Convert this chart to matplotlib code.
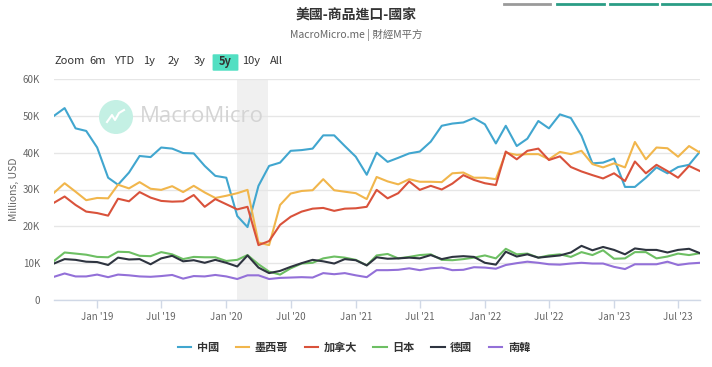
import numpy as np
import pandas as pd
import matplotlib
matplotlib.use("Agg")
import matplotlib.pyplot as plt
import matplotlib.dates as mdates
import matplotlib.ticker as ticker
from matplotlib.patches import FancyBboxPatch, Ellipse

plt.rcParams['font.family'] = ['Noto Sans CJK TC', 'DejaVu Sans']

# monthly, Sep 2018 - Sep 2023, millions USD
dates = pd.date_range('2018-09-01', periods=61, freq='MS')

china = [50.0, 52.1, 46.6, 45.9, 41.4, 33.2, 31.3, 34.6, 39.1, 38.8, 41.4, 41.1, 39.9, 39.8, 36.4, 33.7,
         33.2, 22.8, 19.8, 31.0, 36.4, 37.3, 40.5, 40.7, 41.1, 44.7, 44.7, 41.8,
         38.9, 34.0, 40.0, 37.5, 38.6, 39.8, 40.3, 43.0, 47.3, 47.9, 48.2, 49.4,
         47.7, 42.5, 47.3, 41.8, 43.8, 48.6, 46.6, 50.4, 49.4, 44.6, 37.1, 37.3,
         38.4, 30.7, 30.7, 33.2, 36.0, 34.4, 36.1, 36.7, 40.3]
mexico = [29.1, 31.7, 29.4, 27.1, 27.7, 27.6, 31.3, 30.3, 32.0, 30.2, 29.9, 30.9, 29.3, 31.0, 29.2, 27.7,
          28.3, 29.0, 29.9, 15.6, 14.9, 25.8, 28.9, 29.6, 29.8, 32.8, 29.8, 29.4,
          29.0, 27.4, 33.4, 32.2, 31.4, 32.8, 32.1, 32.1, 32.0, 34.4, 34.6, 33.2,
          33.2, 32.8, 40.0, 39.4, 39.6, 39.6, 38.2, 40.2, 39.6, 40.5, 36.9, 36.0,
          37.1, 36.0, 42.9, 38.2, 41.4, 41.2, 38.9, 41.8, 40.0]
canada = [26.4, 28.1, 25.8, 24.0, 23.6, 22.9, 27.5, 26.8, 29.3, 27.8, 26.9, 26.7, 26.8, 28.5, 25.3, 27.4,
          26.0, 24.6, 25.3, 14.9, 16.0, 20.4, 22.6, 24.0, 24.8, 25.0, 24.2, 24.8,
          24.9, 25.3, 29.9, 27.6, 29.0, 32.2, 29.9, 31.0, 30.0, 31.6, 33.9, 32.6,
          31.7, 31.2, 40.3, 38.2, 40.5, 41.1, 38.0, 39.0, 36.1, 34.9, 33.9, 33.0,
          34.4, 32.3, 37.6, 34.4, 36.7, 35.0, 33.2, 36.4, 35.0]
japan = [10.6, 12.9, 12.6, 12.3, 11.7, 11.6, 13.1, 13.0, 12.0, 11.9, 13.0, 12.4, 11.1, 11.7, 11.6, 11.6,
         10.6, 10.9, 12.2, 9.7, 7.7, 6.9, 8.6, 9.9, 10.1, 11.3, 11.8, 11.5,
         10.9, 9.4, 12.1, 12.5, 11.3, 11.7, 12.2, 12.4, 10.9, 10.8, 11.1, 11.5,
         12.1, 11.3, 13.9, 12.4, 12.6, 11.5, 12.1, 12.4, 11.7, 13.0, 12.2, 13.5,
         11.2, 11.3, 13.0, 13.0, 11.3, 11.8, 12.6, 12.2, 12.7]
germany = [9.9, 11.1, 10.9, 10.4, 10.3, 9.5, 11.5, 11.0, 11.1, 9.7, 11.3, 12.0, 10.5, 10.8, 10.1, 10.9,
           10.1, 9.1, 12.1, 8.8, 7.3, 7.9, 9.0, 10.0, 10.9, 10.5, 9.9, 11.1,
           10.8, 9.4, 11.6, 11.2, 11.3, 11.5, 11.3, 12.2, 11.1, 11.7, 11.9, 11.7,
           10.1, 9.6, 13.1, 11.8, 12.4, 11.5, 11.8, 12.1, 12.9, 14.7, 13.5, 14.4,
           13.6, 12.4, 14.0, 13.6, 13.6, 12.9, 13.6, 13.9, 12.7]
korea = [6.3, 7.2, 6.4, 6.4, 6.9, 6.2, 6.9, 6.7, 6.4, 6.3, 6.5, 6.8, 5.8, 6.5, 6.4, 6.8,
         6.4, 5.7, 6.7, 6.7, 5.7, 6.0, 6.1, 6.2, 6.1, 7.3, 7.0, 7.3,
         6.7, 6.2, 8.1, 8.1, 8.2, 8.6, 8.1, 8.6, 8.8, 8.1, 8.2, 8.9,
         8.8, 8.5, 9.5, 10.0, 10.4, 10.1, 9.7, 9.6, 9.9, 10.1, 9.9, 9.9,
         9.0, 8.4, 9.7, 9.7, 9.7, 10.4, 9.5, 9.9, 10.1]

series_names = ['中國', '墨西哥', '加拿大', '日本', '德國', '南韓']
series_values = [china, mexico, canada, japan, germany, korea]
colors = ['#41a6cf', '#f1b64c', '#d9523b', '#6dbf63', '#2e3440', '#9370d8']

fig = plt.figure(figsize=(7.12, 3.67), dpi=100)
W, H = 712, 367
ax = fig.add_axes([54 / W, 1 - 300 / H, (700 - 54) / W, (300 - 79) / H])

# recession band
ax.axvspan(pd.Timestamp('2020-02-01'), pd.Timestamp('2020-04-28'), color='#f0f0f0', zorder=0, lw=0)

# watermark: round logo + name
cx, cy = 116, 117
fig.add_artist(Ellipse((cx / W, 1 - cy / H), 34 / W, 34 / H, transform=fig.transFigure,
                       facecolor='#c4f0e4', edgecolor='none', zorder=0.5))
zig_x = [cx - 9, cx - 4, cx - 1, cx + 3, cx + 8]
zig_y = [cy + 5, cy - 2, cy + 3, cy - 4, cy - 7]
fig.add_artist(plt.Line2D([v / W for v in zig_x], [1 - v / H for v in zig_y], transform=fig.transFigure,
                          color='white', lw=1.5, zorder=0.6))
fig.text(140 / W, 1 - 117 / H, 'MacroMicro', fontsize=16, color='#d4d4d4',
         family=['Open Sans', 'DejaVu Sans'], va='center', ha='left', zorder=0.5)

for name, vals, c in zip(series_names, series_values, colors):
    ax.plot(dates, np.array(vals) * 1000, color=c, lw=1.5, label=name, zorder=3)

ax.set_xlim(dates[0], dates[-1])
ax.set_ylim(0, 60000)
ax.yaxis.set_major_locator(ticker.MultipleLocator(10000))
ax.yaxis.set_major_formatter(ticker.FuncFormatter(lambda v, p: '0' if v == 0 else f'{int(v / 1000)}K'))
ax.xaxis.set_major_locator(mdates.MonthLocator(bymonth=[1, 7]))
ax.xaxis.set_major_formatter(mdates.DateFormatter("%b '%y"))

ax.grid(axis='y', color='#e6e6e6', lw=1)
ax.set_axisbelow(True)
for s in ['top', 'right', 'left']:
    ax.spines[s].set_visible(False)
ax.spines['bottom'].set_color('#d0d8e6')
ax.spines['bottom'].set_linewidth(1)
ax.tick_params(axis='y', length=0, labelsize=7, labelcolor='#666666', pad=10)
ax.tick_params(axis='x', length=6, width=1, color='#d0d8e6', labelsize=7, labelcolor='#666666', pad=3)
ax.set_ylabel('Millions, USD', fontsize=7.5, color='#666666', labelpad=3)

# titles
fig.text(356 / W, 1 - 16 / H, '美國-商品進口-國家', ha='center', va='center', fontsize=10, fontweight='bold', color='#333333')
fig.text(356 / W, 1 - 35 / H, 'MacroMicro.me | 財經M平方', ha='center', va='center', fontsize=7.5, color='#666666')

# range selector
btns = [('Zoom', 55), ('6m', 98), ('YTD', 124), ('1y', 149), ('2y', 174), ('3y', 200), ('5y', 225), ('10y', 251), ('All', 276)]
fig.patches.append(FancyBboxPatch((214 / W, 1 - 70 / H), 23 / W, 15 / H, transform=fig.transFigure,
                                  boxstyle='round,pad=0.002', facecolor='#52dfc2', edgecolor='none'))
for txt, x in btns:
    if txt == 'Zoom':
        fig.text(x / W, 1 - 61 / H, txt, ha='left', va='center', fontsize=8, color='#333333')
    else:
        fig.text(x / W, 1 - 61 / H, txt, ha='center', va='center', fontsize=8, color='#333333',
                 fontweight='bold' if txt == '5y' else 'normal')

# cut-off tabs at top right
for x0, x1, c in [(504, 550, '#9a9a9a'), (557, 604, '#2a9d85'), (610, 657, '#2a9d85'), (662, 710, '#2a9d85')]:
    fig.add_artist(plt.Line2D([x0 / W, x1 / W], [1 - 4 / H, 1 - 4 / H], transform=fig.transFigure, color=c, lw=2))

leg = fig.legend(loc='center', bbox_to_anchor=(354 / W, 1 - 347 / H), ncol=6, frameon=False,
                 handlelength=1.2, columnspacing=1.5, handletextpad=0.5,
                 prop={'size': 8, 'weight': 'bold'})
for t in leg.get_texts():
    t.set_color('#333333')

fig.savefig('out.png', dpi=100)
